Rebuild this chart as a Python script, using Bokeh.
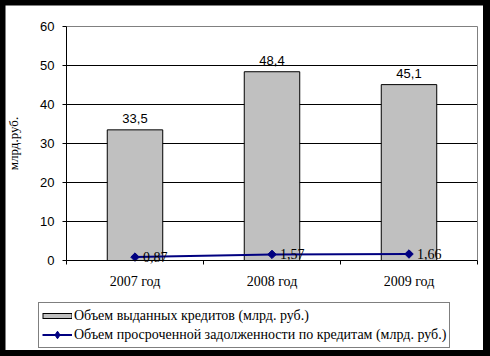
import math
from bokeh.plotting import figure
from bokeh.models import Range1d, FixedTicker, Legend, LegendItem, ColumnDataSource
from bokeh.layouts import column
from bokeh.embed import file_html
from bokeh.resources import INLINE
from bokeh.core.properties import value

categories = ["2007 год", "2008 год", "2009 год"]
credits_issued = [33.5, 48.4, 45.1]
overdue_debt = [0.87, 1.57, 1.66]
y_ticks = [0, 10, 20, 30, 40, 50, 60]
bar_name = "Объем выданных кредитов (млрд. руб.)"
line_name = "Объем просроченной задолженности по кредитам (млрд. руб.)"
y_title = "млрд.руб."


def fmt(v, d):
    return f"{v:.{d}f}".replace(".", ",")


n = len(categories)
xs = list(range(n))
src = ColumnDataSource(dict(
    x=xs, bars=credits_issued, debt=overdue_debt,
    bar_lbl=[fmt(v, 1) for v in credits_issued],
    debt_lbl=[fmt(v, 2) for v in overdue_debt],
))

# canvas layout (pixels): the plot frame covers the whole white card,
# the axes are pinned to the plot area with fixed_location
W, H = 478, 345
PL, PR, PT, PB = 61, 472, 21, 255
x_lo, x_hi = -0.5, n - 0.5
y_lo, y_hi = y_ticks[0], y_ticks[-1]
kx = (PR - PL) / (x_hi - x_lo)
ky = (PB - PT) / (y_hi - y_lo)

p = figure(width=W, height=H,
           x_range=Range1d(x_lo - PL / kx, x_hi + (W - PR) / kx),
           y_range=Range1d(y_lo - (H - PB) / ky, y_hi + PT / ky),
           output_backend="svg", toolbar_location=None,
           min_border=0, min_border_left=0, min_border_right=0,
           min_border_top=0, min_border_bottom=0,
           margin=(5, 7, 6, 5),
           background_fill_color="white", border_fill_color="white",
           outline_line_color=None)

p.xgrid.grid_line_color = None
p.ygrid.grid_line_color = None

# grid lines and plot-area border
grid_src = ColumnDataSource(dict(y=y_ticks[1:-1]))
p.segment(x0=x_lo, x1=x_hi, y0="y", y1="y", source=grid_src, line_color="black", line_width=1)
p.segment(x0=[x_lo], x1=[x_hi], y0=[y_hi], y1=[y_hi], line_color="#808080", line_width=1)
p.segment(x0=[x_hi], x1=[x_hi], y0=[y_lo], y1=[y_hi], line_color="#808080", line_width=1)

# axes
p.yaxis.fixed_location = x_lo
p.yaxis.bounds = (y_lo, y_hi)
p.yaxis.ticker = FixedTicker(ticks=y_ticks)
p.yaxis.major_tick_out = 4
p.yaxis.major_tick_in = 0
p.yaxis.minor_tick_line_color = None
p.yaxis.axis_line_color = "black"
p.yaxis.major_tick_line_color = "black"
p.yaxis.major_label_text_font = "Liberation Sans"
p.yaxis.major_label_text_font_size = "13px"
p.yaxis.major_label_text_color = "black"
p.yaxis.major_label_standoff = 8
p.yaxis.axis_label = y_title
p.yaxis.axis_label_text_font = "Liberation Serif"
p.yaxis.axis_label_text_font_size = "13px"
p.yaxis.axis_label_text_font_style = "normal"
p.yaxis.axis_label_text_color = "black"
p.yaxis.axis_label_standoff = 16

p.xaxis.fixed_location = y_lo
p.xaxis.bounds = (x_lo, x_hi)
p.xaxis.ticker = FixedTicker(ticks=xs, minor_ticks=[i - 0.5 for i in range(n + 1)])
p.xaxis.major_label_overrides = {i: c for i, c in enumerate(categories)}
p.xaxis.major_tick_line_color = None
p.xaxis.major_tick_out = 0
p.xaxis.major_tick_in = 0
p.xaxis.minor_tick_line_color = "black"
p.xaxis.minor_tick_out = 4
p.xaxis.minor_tick_in = 0
p.xaxis.axis_line_color = "black"
p.xaxis.major_label_text_font = "Liberation Serif"
p.xaxis.major_label_text_font_size = "14px"
p.xaxis.major_label_text_color = "black"
p.xaxis.major_label_standoff = 9

# bars
p.vbar(x="x", top="bars", width=0.405, source=src,
       fill_color="#C0C0C0", line_color="black", line_width=1)
p.text(x="x", y="bars", text="bar_lbl", source=src, y_offset=-11,
       text_align="center", text_baseline="alphabetic",
       text_font=value("Liberation Sans"), text_font_size="13px", text_color="black")

# line
line_r = p.line(x="x", y="debt", source=src, line_color="#000080", line_width=2)
p.scatter(x="x", y="debt", source=src, marker="square", angle=math.pi / 4,
          size=6, fill_color="#000080", line_color="#000080")
p.text(x="x", y="debt", text="debt_lbl", source=src, x_offset=8,
       text_align="left", text_baseline="middle",
       text_font=value("Liberation Serif"), text_font_size="14px", text_color="black")

# legend swatch stand-ins (no visible data in the plot)
nan = float("nan")
edge_r = p.line(x=[nan, nan], y=[nan, nan], line_color="black", line_width=6)
fill_r = p.line(x=[nan, nan], y=[nan, nan], line_color="#C0C0C0", line_width=4,
                line_dash="28 100", line_dash_offset=-1)
mark_r = p.scatter(x=[nan], y=[nan], marker="diamond",
                   fill_color="#000080", line_color="#000080")

legend = Legend(items=[LegendItem(label=bar_name, renderers=[edge_r, fill_r]),
                       LegendItem(label=line_name, renderers=[line_r, mark_r])],
                location=(33, 2), orientation="vertical",
                border_line_color="black", border_line_width=1,
                background_fill_color="white", background_fill_alpha=1,
                padding=3, spacing=0, margin=0,
                label_height=19, glyph_height=19, glyph_width=30, label_standoff=2,
                label_text_font="Liberation Serif", label_text_font_size="14px",
                label_text_color="black")
p.add_layout(legend)

layout = column(p, styles={"background-color": "black"})

open("out.html", "w").write(file_html(layout, INLINE))
